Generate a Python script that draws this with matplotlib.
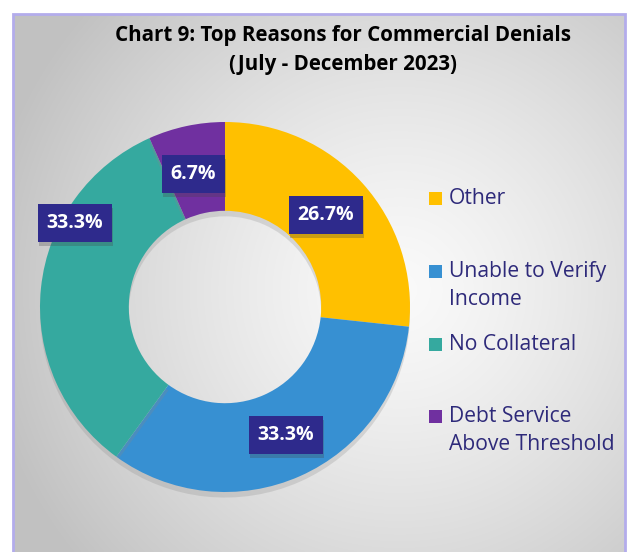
import numpy as np
import matplotlib
matplotlib.use("Agg")
import matplotlib.pyplot as plt
from matplotlib.patches import Rectangle
import matplotlib.patheffects as pe

categories = ["Other", "Unable to Verify Income", "No Collateral", "Debt Service Above Threshold"]
legend_labels = ["Other", "Unable to Verify\nIncome", "No Collateral", "Debt Service\nAbove Threshold"]
values = [26.7, 33.3, 33.3, 6.7]
colors = ["#FFC000", "#3790D2", "#35A99F", "#7030A0"]
title = "Chart 9: Top Reasons for Commercial Denials\n(July - December 2023)"

W, H = 638, 552
fig = plt.figure(figsize=(W / 100, H / 100), dpi=100)
ax = fig.add_axes([0, 0, 1, 1])

# background radial gradient inside border
x0, x1, y0, y1 = 13, 625, 0, H - 14
gx, gy = np.meshgrid(np.linspace(x0, x1, 300), np.linspace(y0, y1, 300))
cx, cy = 400, H - 290
d = np.sqrt((gx - cx) ** 2 + (gy - cy) ** 2) / 420
v = 0.98 - 0.22 * np.clip(d, 0, 1) ** 1.3
img = np.dstack([v, v, v])
ax.imshow(img, extent=[x0, x1, y0, y1], origin="lower", zorder=0, interpolation="bilinear")
ax.add_patch(Rectangle((x0, y0 - 5), x1 - x0, y1 - y0 + 5, fill=False,
                       edgecolor="#B3ACEB", lw=2, zorder=1))

# donut
center = (225, H - 307)
R = 185
wedges, _ = ax.pie(values, colors=colors, startangle=90, counterclock=False,
                   radius=R, center=center, frame=True,
                   wedgeprops=dict(width=R * 0.48, edgecolor="none"))
for w in wedges:
    w.set_zorder(3)
    w.set_path_effects([pe.SimplePatchShadow(offset=(0, -4), shadow_rgbFace="#888888", alpha=0.25), pe.Normal()])
ax.set_xlim(0, W)
ax.set_ylim(0, H)
ax.set_aspect("equal")
ax.axis("off")

# data labels
label_pos = [(326, 215), (286, 435), (75, 223), (193, 174)]
for val, (lx, ly) in zip(values, label_pos):
    t = ax.text(lx, H - ly, f"{val:.1f}%", ha="center", va="center", color="white",
                fontsize=14, fontweight="bold", family="Open Sans", zorder=5,
                bbox=dict(boxstyle="square,pad=0.45", facecolor="#2E2A8C", edgecolor="none"))
    t.get_bbox_patch().set_path_effects(
        [pe.SimplePatchShadow(offset=(1, -3), shadow_rgbFace="#444444", alpha=0.28), pe.Normal()])

# title
ax.text(343, H - 50, title, ha="center", va="center", fontsize=14.8, fontweight="bold",
        family="Open Sans", color="black", linespacing=1.45, zorder=5)

# legend
marker_y = [198, 271, 344, 416]
line_gap = 28.5
for lab, col, my in zip(legend_labels, colors, marker_y):
    nlines = lab.count("\n") + 1
    ax.add_patch(Rectangle((429, H - my - 6.5), 13, 13, facecolor=col, edgecolor="none", zorder=5))
    ty = my + (nlines - 1) * line_gap / 2
    ax.text(449, H - ty, lab, ha="left", va="center", fontsize=15.2, family="Open Sans",
            color="#2E2A7A", linespacing=1.45, zorder=5)

fig.savefig("out.png", dpi=100)
